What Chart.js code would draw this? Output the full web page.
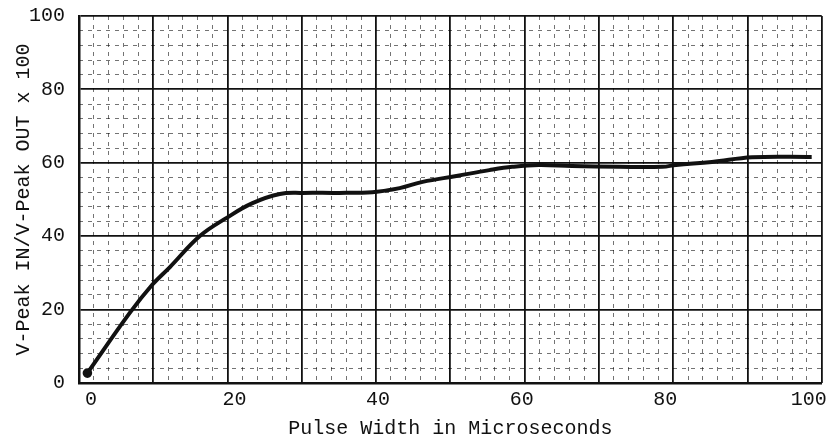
<!DOCTYPE html>
<html>
<head>
<meta charset="utf-8">
<script src="https://cdn.jsdelivr.net/npm/chart.js@4.4.1/dist/chart.umd.min.js"></script>
<style>
  html, body { margin: 0; padding: 0; background: #fff; }
  #wrap { width: 832px; height: 439px; }
</style>
</head>
<body>
<div id="wrap"><canvas id="chart" width="832" height="439"></canvas></div>
<script>
// values
const pulseWidth = [-0.5, 5.4, 8.5, 11.0, 15.2, 18.9, 22.5, 26.3, 29.5, 34.6, 39.2, 43.0,
                    46.2, 50.9, 55.5, 58.7, 62.4, 67.0, 73.6, 79.6, 81.5, 86.5, 92.1, 100.4];
const peakRatio  = [2.7, 19.1, 26.7, 31.6, 40.1, 45.0, 49.0, 51.5, 51.8, 51.8, 52.0, 53.1,
                    54.8, 56.4, 58.0, 58.9, 59.4, 59.1, 58.9, 58.9, 59.4, 60.2, 61.5, 61.6];
const xTicks = [0, 20, 40, 60, 80, 100];
const yTicks = [0, 20, 40, 60, 80, 100];

const monoFont = '"Liberation Mono", "Courier New", monospace';
const ink = '#111';
const minorInk = 'rgba(0,0,0,0.55)';

// graph-paper grid: hidden scales only used for their grid lines
const paperAxis = (pos, max, major) => ({
    type: 'linear',
    position: pos,
    min: 0,
    max: max,
    afterFit: s => { if (s.isHorizontal()) s.height = 0; else s.width = 0; },
    ticks: { display: false, stepSize: 1 },
    border: { display: false, dash: major ? [] : [4, 5] },
    grid: {
        drawTicks: false,
        color: ctx => major ? ink : (ctx.index % 5 === 0 ? 'transparent' : minorInk),
        lineWidth: major ? 1.8 : 1
    }
});

new Chart(document.getElementById('chart'), {
    type: 'line',
    data: {
        datasets: [{
            data: pulseWidth.map((x, i) => ({ x: x, y: peakRatio[i] })),
            borderColor: ink,
            backgroundColor: ink,
            borderWidth: 4,
            tension: 0.4,
            pointRadius: pulseWidth.map((x, i) => i === 0 ? 2.8 : 0),
            fill: false
        }]
    },
    options: {
        responsive: false,
        animation: false,
        layout: { padding: { left: 0, right: 9, top: 7, bottom: 0 } },
        plugins: { legend: { display: false }, tooltip: { enabled: false } },
        scales: {
            x: {
                type: 'linear',
                min: -1.67,
                max: 101.8,
                afterBuildTicks: s => { s.ticks = xTicks.map(v => ({ value: v })); },
                afterFit: s => { s.height = 56; },
                grid: { display: false, drawTicks: false },
                border: { display: true, color: ink, width: 2.5 },
                ticks: { color: ink, padding: 5, font: { family: monoFont, size: 20 } },
                title: {
                    display: true,
                    text: 'Pulse Width in Microseconds',
                    color: ink,
                    padding: { top: 0, bottom: 0 },
                    font: { family: monoFont, size: 20, lineHeight: 1 }
                }
            },
            y: {
                type: 'linear',
                min: 0,
                max: 100,
                afterBuildTicks: s => { s.ticks = yTicks.map(v => ({ value: v })); },
                // fixed axis width; top of plot at 16px like the scan
                afterFit: s => { s.width = 79; s.paddingTop = 16; s.paddingBottom = 0; },
                grid: { drawTicks: false, color: ink, lineWidth: 1.8 },
                border: { display: true, color: ink, width: 2.5 },
                ticks: { color: ink, padding: 14, font: { family: monoFont, size: 20 } },
                title: {
                    display: true,
                    text: 'V-Peak IN/V-Peak OUT x 100',
                    color: ink,
                    padding: { top: 14, bottom: 0 },
                    font: { family: monoFont, size: 20, lineHeight: 1 }
                }
            },
            xMajor: paperAxis('top', 10, true),
            xMinor: paperAxis('top', 50, false),
            yMinor: paperAxis('right', 25, false)
        }
    }
});
</script>
</body>
</html>
